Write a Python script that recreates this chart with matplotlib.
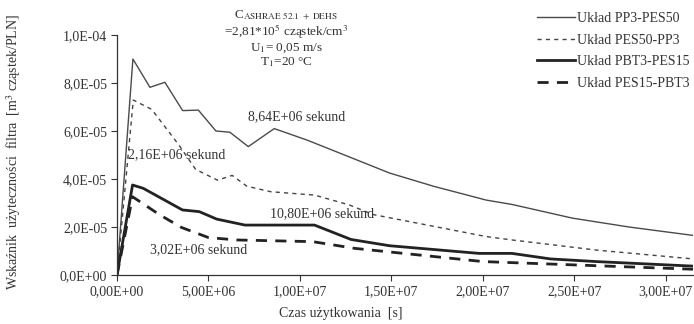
import matplotlib
matplotlib.use('Agg')
import matplotlib.pyplot as plt
from matplotlib.ticker import FuncFormatter, MultipleLocator

plt.rcParams['font.family'] = ['Liberation Serif', 'DejaVu Serif']
plt.rcParams['mathtext.fontset'] = 'stix'
plt.rcParams['font.size'] = 10

# czas [s] i wskaznik uzytecznosci [m3 czastek/PLN]
t_pp3_pes50 = [0, 0.87e6, 1.8e6, 2.62e6, 3.59e6, 4.45e6, 5.41e6, 6.17e6, 7.18e6, 8.6e6,
               10.4e6, 12.9e6, 14.9e6, 17.3e6, 20.2e6, 21.6e6, 24.9e6, 28.0e6, 31.5e6]
u_pp3_pes50 = [0, 9.0e-5, 7.82e-5, 8.03e-5, 6.85e-5, 6.87e-5, 6.0e-5, 5.95e-5, 5.35e-5, 6.1e-5,
               5.62e-5, 4.86e-5, 4.25e-5, 3.7e-5, 3.12e-5, 2.94e-5, 2.37e-5, 2.0e-5, 1.65e-5]

t_pes50_pp3 = [0, 0.89e6, 1.9e6, 2.6e6, 3.4e6, 4.3e6, 5.5e6, 6.3e6, 7.1e6, 8.4e6,
               10.8e6, 12.7e6, 14.0e6, 20.2e6, 21.6e6, 26.2e6, 31.5e6]
u_pes50_pp3 = [0, 7.29e-5, 6.9e-5, 6.2e-5, 5.4e-5, 4.4e-5, 3.95e-5, 4.15e-5, 3.7e-5, 3.47e-5,
               3.33e-5, 2.92e-5, 2.52e-5, 1.6e-5, 1.46e-5, 1.04e-5, 0.67e-5]

t_pbt3_pes15 = [0, 0.85e6, 1.44e6, 3.58e6, 4.5e6, 5.45e6, 7.0e6, 10.8e6, 12.8e6, 14.9e6,
                19.8e6, 21.6e6, 23.7e6, 26.2e6, 31.5e6]
u_pbt3_pes15 = [0, 3.75e-5, 3.61e-5, 2.71e-5, 2.64e-5, 2.33e-5, 2.08e-5, 2.08e-5, 1.48e-5, 1.22e-5,
                0.9e-5, 0.9e-5, 0.67e-5, 0.56e-5, 0.37e-5]

t_pes15_pbt3 = [0, 0.85e6, 2.35e6, 3.53e6, 5.0e6, 6.54e6, 10.7e6, 13.0e6, 20.0e6, 31.5e6]
u_pes15_pbt3 = [0, 3.26e-5, 2.5e-5, 1.98e-5, 1.56e-5, 1.46e-5, 1.39e-5, 1.11e-5, 0.56e-5, 0.24e-5]

labels = ['Układ PP3-PES50', 'Układ PES50-PP3', 'Układ PBT3-PES15', 'Układ PES15-PBT3']

col = '#333333'
fig = plt.figure(figsize=(6.94, 3.24), dpi=100)
ax = fig.add_axes([117/694, 49/324, 576/694, 240/324])

ax.plot(t_pp3_pes50, u_pp3_pes50, color='#4a4a4a', lw=1.0, label=labels[0])
ax.plot(t_pes50_pp3, u_pes50_pp3, color='#444444', lw=1.0, ls=(0, (3, 3)), label=labels[1])
ax.plot(t_pbt3_pes15, u_pbt3_pes15, color='#222222', lw=2.0, label=labels[2])
ax.plot(t_pes15_pbt3, u_pes15_pbt3, color='#222222', lw=2.0, ls=(0, (4, 3)), label=labels[3])

ax.set_xlim(0, 3.15e7)
ax.set_ylim(0, 1.0e-4)
ax.xaxis.set_major_locator(MultipleLocator(5e6))
ax.yaxis.set_major_locator(MultipleLocator(2e-5))
ax.xaxis.set_major_formatter(FuncFormatter(lambda v, p: f'{v:.2E}'.replace('.', ',')))
ax.yaxis.set_major_formatter(FuncFormatter(lambda v, p: f'{v:.1E}'.replace('.', ',')))
ax.tick_params(direction='out', length=4, width=0.8, colors=col, labelsize=10, pad=3)
for s in ['top', 'right']:
    ax.spines[s].set_visible(False)
for s in ['left', 'bottom']:
    ax.spines[s].set_color(col)
    ax.spines[s].set_linewidth(0.9)

# opisy punktow
ax.text(7.16e6, 6.58e-5, '8,64E+06 sekund', ha='left', va='center', color=col)
ax.text(0.6e6, 5.0e-5, '2,16E+06 sekund', ha='left', va='center', color=col)
ax.text(8.36e6, 2.54e-5, '10,80E+06 sekund', ha='left', va='center', color=col)
ax.text(1.8e6, 1.04e-5, '3,02E+06 sekund', ha='left', va='center', color=col)

# warunki pomiaru - jeden blok tekstu
warunki = '\n'.join([r'C$_{\mathrm{ASHRAE\ 52.1\ +\ DEHS}}$',
                     r'=2,81*10$^5$ cząstek/cm$^3$',
                     r'U$_1$= 0,05 m/s',
                     r'T$_1$=20 °C'])
fig.text(286/694, 1 - 8/324, warunki, ha='center', va='top', multialignment='center',
         color=col, fontsize=9.5, linespacing=1.05)

fig.text(14/694, 1 - 152/324, 'Wskaźnik  użyteczności  filtra  [m$^3$ cząstek/PLN]', rotation=90,
         ha='center', va='center', color=col, fontsize=10)
fig.text(341/694, 1 - 313/324, 'Czas użytkowania  [s]', ha='center', va='center', color=col)

leg = ax.legend(loc='upper left', bbox_to_anchor=(537/694, 1 - 12/324), bbox_transform=fig.transFigure,
                frameon=False, handlelength=2.7, handletextpad=0.2, labelspacing=0.62, borderpad=0,
                borderaxespad=0, fontsize=10)
for t in leg.get_texts():
    t.set_color(col)

fig.savefig('out.png', dpi=100)
